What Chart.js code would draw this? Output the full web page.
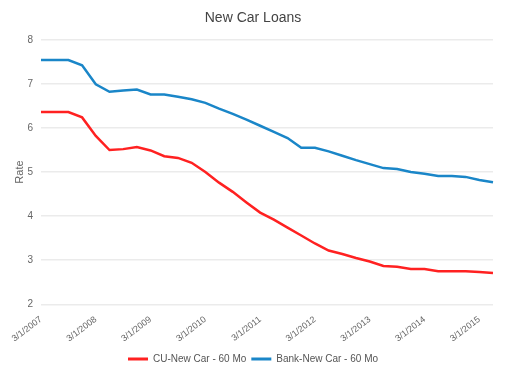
<!DOCTYPE html>
<html><head><meta charset="utf-8">
<script src="https://cdn.jsdelivr.net/npm/chart.js@4.4.1/dist/chart.umd.min.js"></script>
<style>html,body{margin:0;padding:0;background:#fff}#wrap{width:507px;height:371px}</style>
</head><body><div id="wrap"><canvas id="c" width="507" height="371"></canvas></div>
<script>
const categories = ["3/1/2007","6/1/2007","9/1/2007","12/1/2007","3/1/2008","6/1/2008","9/1/2008","12/1/2008","3/1/2009","6/1/2009","9/1/2009","12/1/2009","3/1/2010","6/1/2010","9/1/2010","12/1/2010","3/1/2011","6/1/2011","9/1/2011","12/1/2011","3/1/2012","6/1/2012","9/1/2012","12/1/2012","3/1/2013","6/1/2013","9/1/2013","12/1/2013","3/1/2014","6/1/2014","9/1/2014","12/1/2014","3/1/2015","6/1/2015"];
const cuNewCar = [6.36,6.36,6.36,6.24,5.82,5.50,5.52,5.57,5.49,5.36,5.32,5.21,5.00,4.76,4.55,4.31,4.08,3.92,3.74,3.56,3.38,3.22,3.14,3.05,2.97,2.87,2.85,2.80,2.80,2.75,2.75,2.75,2.73,2.71];
const bankNewCar = [7.54,7.54,7.54,7.42,6.99,6.82,6.85,6.87,6.76,6.76,6.71,6.65,6.57,6.44,6.32,6.19,6.05,5.91,5.77,5.55,5.55,5.47,5.37,5.27,5.18,5.09,5.07,5.00,4.96,4.91,4.91,4.89,4.82,4.77];
const seriesNames = ["CU-New Car - 60 Mo","Bank-New Car - 60 Mo"];
const seriesColors = ["#ff2121","#1a86c8"];
const yTicks = [2,3,4,5,6,7,8];

Chart.defaults.font.family = "'Liberation Sans', Arial, sans-serif";
new Chart(document.getElementById('c'), {
  type: 'line',
  data: {
    labels: categories,
    datasets: [
      {label: seriesNames[0], data: cuNewCar, borderColor: seriesColors[0], backgroundColor: seriesColors[0], borderWidth: 2.5, pointRadius: 0, tension: 0, fill: false},
      {label: seriesNames[1], data: bankNewCar, borderColor: seriesColors[1], backgroundColor: seriesColors[1], borderWidth: 2.5, pointRadius: 0, tension: 0, fill: false}
    ]
  },
  options: {
    responsive: false,
    animation: false,
    layout: {padding: {left: 13, right: 14, top: 8, bottom: -3}},
    plugins: {
      title: {display: true, text: 'New Car Loans', color: '#444', font: {size: 14, weight: 'normal'}, padding: {top: 2, bottom: 13}},
      legend: {position: 'bottom', labels: {boxWidth: 20, boxHeight: 3, color: '#555', font: {size: 10}, padding: 5,
        generateLabels: (chart) => chart.data.datasets.map((d, i) => ({text: d.label, fillStyle: seriesColors[i], strokeStyle: seriesColors[i], lineWidth: 0, hidden: false, datasetIndex: i, fontColor: '#555'}))}},
      tooltip: {enabled: false}
    },
    scales: {
      x: {
        offset: false,
        grid: {display: false},
        border: {display: false},
        afterFit: (s) => { s.height = s.height + 3; },
        ticks: {autoSkip: false, minRotation: 37, maxRotation: 37, color: '#666', font: {size: 9}, padding: 2,
          callback: function(v, i){ return i % 4 === 0 ? categories[i] : ''; }}
      },
      y: {
        min: 2, max: 8,
        afterBuildTicks: (s) => { s.ticks = yTicks.map(v => ({value: v})); },
        afterFit: (s) => { s.width = 28; },
        grid: {color: '#ebebeb', lineWidth: 1.5, drawTicks: false},
        border: {display: false},
        title: {display: true, text: 'Rate', color: '#666', font: {size: 11}, padding: 0},
        ticks: {color: '#666', font: {size: 10}, padding: 8}
      }
    }
  }
});
</script></body></html>
